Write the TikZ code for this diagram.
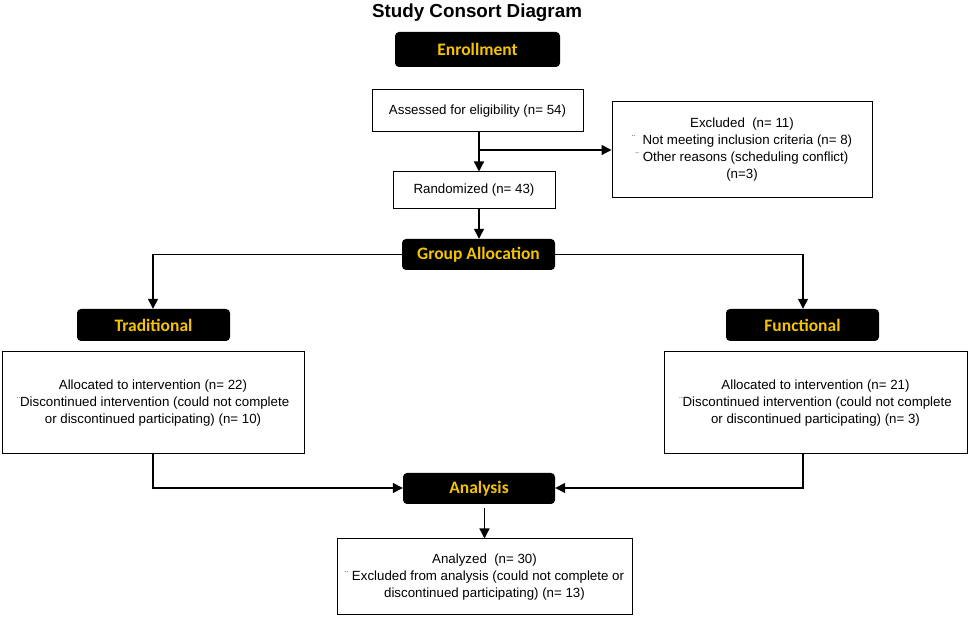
\documentclass[tikz,border=0pt]{standalone}
\usepackage{fontspec}
\setmainfont{Liberation Sans}
\newfontfamily\hdfont{Carlito}
\usetikzlibrary{arrows.meta}
\definecolor{hdyellow}{RGB}{245,196,0}
\newcommand{\bul}{\raisebox{2pt}{\fontsize{10}{10}\selectfont\color[gray]{0.35}¨}}
\begin{document}
\begin{tikzpicture}[x=1pt,y=1pt,
  hdbox/.style={fill=black,rounded corners=4pt,text=hdyellow,font=\hdfont\bfseries\fontsize{17.5}{19}\selectfont,inner sep=0pt},
  txtbox/.style={draw=black,line width=1pt,fill=white,align=center,font=\fontsize{13.3}{17}\selectfont,inner sep=0pt},
  conn/.style={line width=1.3pt},
  arr/.style={conn,-{Triangle[length=10pt,width=10pt]}}]
\useasboundingbox (0,0) rectangle (969,620);
\node (title) at (477,607) {\bfseries\fontsize{18.8}{20}\selectfont Study Consort Diagram};
\node[hdbox,minimum width=165pt,minimum height=35pt] (enroll) at (477.5,570.5) {Enrollment};
\node[txtbox,minimum width=211pt,minimum height=42pt] (assess) at (477.5,509) {Assessed for eligibility (n= 54)};
\node[txtbox,minimum width=260pt,minimum height=96pt] (excl) at (742,470) {Excluded\ \ (n= 11)\\ \bul\ \ Not meeting inclusion criteria (n= 8)\\ \bul\ Other reasons (scheduling conflict)\\ (n=3)};
\node[txtbox,minimum width=162pt,minimum height=37pt] (rand) at (474,429.5) {Randomized (n= 43)};
\node[hdbox,minimum width=153pt,minimum height=31pt] (group) at (478.5,365.5) {Group Allocation};
\node[hdbox,minimum width=153pt,minimum height=32pt] (trad) at (153.5,295) {Traditional};
\node[hdbox,minimum width=153pt,minimum height=32pt] (func) at (802.5,295) {Functional};
\node[txtbox,minimum width=302pt,minimum height=102pt] (tbox) at (153,217) {Allocated to intervention (n= 22)\\ \bul Discontinued intervention (could not complete\\ or discontinued participating) (n= 10)};
\node[txtbox,minimum width=303pt,minimum height=102pt] (fbox) at (815.5,217) {Allocated to intervention (n= 21)\\ \bul Discontinued intervention (could not complete\\ or discontinued participating) (n= 3)};
\node[hdbox,minimum width=152pt,minimum height=31pt] (anal) at (479,131.5) {Analysis};
\node[txtbox,minimum width=295pt,minimum height=76pt] (anbox) at (484.5,43) {Analyzed\ \ (n= 30)\\ \bul\ Excluded from analysis (could not complete or\\ discontinued participating) (n= 13)};
\coordinate (branch) at (479,470);
\coordinate (tl) at (153,365.5);
\coordinate (fr) at (803,365.5);
\coordinate (tb) at (153,132);
\coordinate (fb) at (803,132);
\draw[arr] (assess.south -| branch) -- (rand.north -| branch);
\draw[arr] (branch) -- (excl.west |- branch);
\draw[arr] (rand.south -| branch) -- (group.north -| branch);
\draw[arr] (group.west) -- (tl) -- (trad.north -| tl);
\draw[arr] (group.east) -- (fr) -- (func.north -| fr);
\draw[arr] (tbox.south -| tb) -- (tb) -- (anal.west |- tb);
\draw[arr] (fbox.south -| fb) -- (fb) -- (anal.east |- fb);
\draw[arr] ([yshift=-4pt]anal.south -| anbox.north) -- (anbox.north);
\end{tikzpicture}
\end{document}
